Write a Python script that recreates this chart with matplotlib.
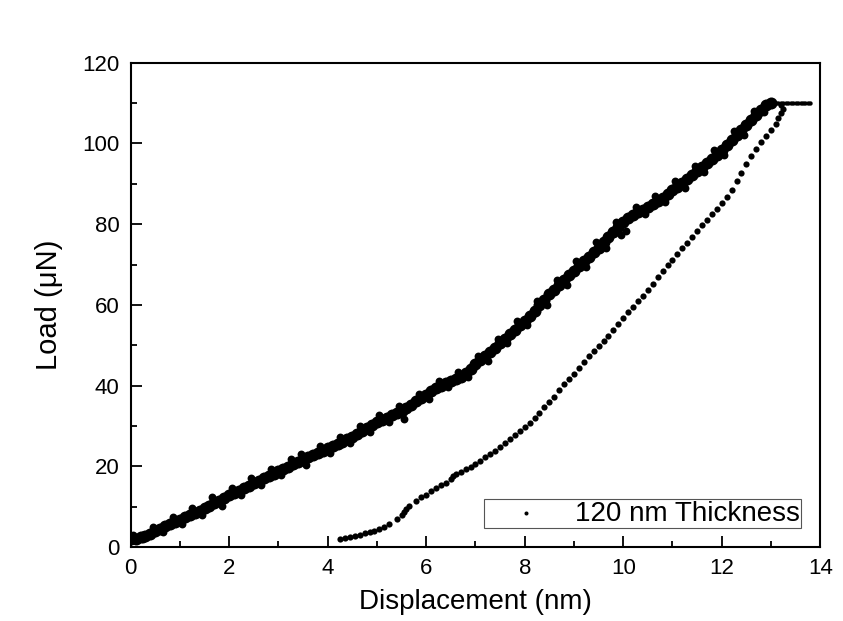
import matplotlib
matplotlib.use('Agg')
import matplotlib.pyplot as plt
from matplotlib.ticker import MultipleLocator

plt.rcParams['font.family'] = ['Liberation Sans', 'DejaVu Sans']

# loading branch (dense band), centre of the band
load_x = [0.0, 0.1, 0.2, 0.3, 0.4, 0.5, 0.6, 0.7, 0.8, 0.9,
          1.0, 1.1, 1.2, 1.3, 1.4, 1.5, 1.6, 1.7, 1.8, 1.9,
          2.0, 2.1, 2.2, 2.3, 2.4, 2.5, 2.6, 2.7, 2.8, 2.9,
          3.0, 3.1, 3.2, 3.3, 3.4, 3.5, 3.6, 3.7, 3.8, 3.9,
          4.0, 4.1, 4.2, 4.3, 4.4, 4.5, 4.6, 4.7, 4.8, 4.9,
          5.0, 5.1, 5.2, 5.3, 5.4, 5.5, 5.6, 5.7, 5.8, 5.9,
          6.0, 6.1, 6.2, 6.3, 6.4, 6.5, 6.6, 6.7, 6.8, 6.9,
          7.0, 7.1, 7.2, 7.3, 7.4, 7.5, 7.6, 7.7, 7.8, 7.9,
          8.0, 8.1, 8.2, 8.3, 8.4, 8.5, 8.6, 8.7, 8.8, 8.9,
          9.0, 9.1, 9.2, 9.3, 9.4, 9.5, 9.6, 9.7, 9.8, 9.9,
          10.0, 10.1, 10.2, 10.3, 10.4, 10.5, 10.6, 10.7, 10.8, 10.9,
          11.0, 11.1, 11.2, 11.3, 11.4, 11.5, 11.6, 11.7, 11.8, 11.9,
          12.0, 12.1, 12.2, 12.3, 12.4, 12.5, 12.6, 12.7, 12.8, 12.9, 13.0]
load_y = [2.0, 2.1, 2.4, 2.8, 3.3, 4.0, 4.6, 5.2, 5.8, 6.3,
          6.8, 7.4, 7.9, 8.5, 9.0, 9.6, 10.3, 11.0, 11.5, 12.2,
          12.8, 13.4, 14.0, 14.6, 15.2, 15.8, 16.4, 17.0, 17.6, 18.2,
          18.8, 19.3, 19.9, 20.5, 21.0, 21.6, 22.2, 22.8, 23.4, 23.9,
          24.5, 25.0, 25.5, 26.1, 26.7, 27.3, 28.0, 28.8, 29.6, 30.3,
          31.0, 31.6, 32.1, 32.7, 33.2, 33.8, 34.5, 35.3, 36.1, 37.0,
          37.8, 38.6, 39.3, 40.0, 40.6, 41.2, 41.7, 42.2, 43.1, 44.2,
          45.3, 46.3, 47.3, 48.3, 49.4, 50.5, 51.6, 52.7, 53.8, 54.9,
          56.0, 57.3, 58.6, 59.9, 61.3, 62.6, 63.8, 65.0, 66.2, 67.4,
          68.5, 69.6, 70.8, 71.9, 73.0, 74.2, 75.5, 76.8, 78.1, 79.4,
          80.5, 81.5, 82.2, 82.9, 83.5, 84.2, 85.0, 85.8, 86.6, 87.5,
          88.4, 89.3, 90.2, 91.2, 92.1, 93.1, 94.1, 95.1, 96.1, 97.2,
          98.4, 99.6, 100.8, 102.0, 103.3, 104.5, 105.8, 107.1, 108.4, 109.5, 110.0]

# loading branch, scattered points at the edges of the band
edge_x = [0.05, 0.25, 0.45, 0.65, 0.85, 1.05, 1.25, 1.45, 1.65, 1.85,
          2.05, 2.25, 2.45, 2.65, 2.85, 3.05, 3.25, 3.45, 3.55, 3.85,
          4.05, 4.25, 4.45, 4.65, 4.85, 5.05, 5.25, 5.45, 5.55, 5.85,
          6.05, 6.25, 6.45, 6.65, 6.85, 7.05, 7.25, 7.45, 7.65, 7.85,
          8.05, 8.25, 8.45, 8.65, 8.85, 9.05, 9.25, 9.45, 9.65, 9.85,
          9.95, 10.05, 10.25, 10.45, 10.65, 10.85, 11.05, 11.25, 11.45, 11.65,
          11.85, 12.05, 12.25, 12.45, 12.65, 12.85]
edge_y = [2.9, 2.0, 4.9, 3.7, 7.4, 5.8, 9.7, 7.9, 12.4, 10.3,
          14.7, 12.9, 17.0, 15.4, 19.3, 17.8, 21.8, 23.1, 20.3, 25.0,
          23.4, 27.3, 25.7, 30.0, 28.5, 32.8, 31.1, 34.9, 31.7, 38.0,
          36.8, 41.1, 39.6, 43.4, 42.1, 47.4, 46.2, 51.6, 50.5, 56.1,
          54.9, 61.0, 60.0, 66.2, 65.0, 70.8, 69.5, 75.5, 74.2, 80.5,
          77.4, 78.2, 84.2, 82.4, 87.1, 85.4, 90.6, 89.0, 94.4, 92.9,
          98.5, 97.2, 103.2, 102.1, 108.0, 107.7]

# hold at peak load
hold_x = [13.0, 13.05, 13.1, 13.15, 13.2, 13.25, 13.3, 13.35, 13.4, 13.45,
          13.5, 13.55, 13.6, 13.65, 13.7, 13.75, 13.8]
hold_y = [110.0] * len(hold_x)

# unloading branch (sparse dots)
unload_x = [13.2, 13.25, 13.2, 13.15, 13.1, 13.0, 12.9, 12.8, 12.7, 12.6,
            12.5, 12.4, 12.3, 12.2, 12.1, 12.0, 11.9, 11.8, 11.7, 11.6,
            11.5, 11.4, 11.3, 11.2, 11.1, 11.0, 10.9, 10.8, 10.7, 10.6,
            10.5, 10.4, 10.3, 10.2, 10.1, 10.0, 9.9, 9.8, 9.7, 9.6,
            9.5, 9.4, 9.3, 9.2, 9.1, 9.0, 8.9, 8.8, 8.7, 8.6,
            8.5, 8.4, 8.3, 8.2, 8.1, 8.0, 7.9, 7.8, 7.7, 7.6,
            7.5, 7.4, 7.3, 7.2, 7.1, 7.0, 6.9, 6.8, 6.7, 6.6,
            6.55, 6.5, 6.4, 6.3, 6.2, 6.1, 6.0, 5.9, 5.8, 5.65,
            5.6, 5.55, 5.5, 5.4, 5.25, 5.15, 5.05, 4.95, 4.85, 4.75,
            4.65, 4.55, 4.45, 4.35, 4.26]
unload_y = [109.6, 108.6, 107.5, 106.2, 104.9, 103.3, 101.8, 100.3, 98.7, 96.9,
            95.0, 92.8, 90.6, 88.5, 86.8, 85.2, 83.8, 82.4, 81.0, 79.7,
            78.3, 76.9, 75.4, 74.0, 72.6, 71.2, 69.8, 68.3, 66.8, 65.2,
            63.6, 62.3, 61.0, 59.6, 58.2, 56.8, 55.3, 53.8, 52.4, 51.1,
            49.9, 48.6, 47.3, 45.9, 44.4, 43.0, 41.7, 40.3, 38.8, 37.3,
            35.9, 34.6, 33.3, 32.0, 30.8, 29.7, 28.7, 27.8, 26.8, 25.8,
            24.8, 23.9, 23.0, 22.2, 21.4, 20.6, 19.9, 19.3, 18.7, 18.2,
            17.5, 16.8, 16.0, 15.3, 14.6, 13.8, 13.0, 12.3, 11.5, 10.2,
            9.5, 8.8, 8.0, 7.0, 5.8, 5.1, 4.5, 4.1, 3.8, 3.4,
            3.1, 2.8, 2.5, 2.2, 2.0]

fig = plt.figure(figsize=(8.43, 6.21), dpi=100)
ax = fig.add_axes([0.155, 0.119, 0.818, 0.780])

ax.scatter(load_x, load_y, s=75, color='black', marker='o', linewidths=0)
ax.scatter(edge_x, edge_y, s=32, color='black', marker='o', linewidths=0)
ax.scatter(hold_x, hold_y, s=10, color='black', marker='o', linewidths=0)
ax.scatter(unload_x, unload_y, s=20, color='black', marker='o', linewidths=0,
           label='120 nm Thickness')

ax.set_xlim(0, 14)
ax.set_ylim(0, 120)
ax.xaxis.set_major_locator(MultipleLocator(2))
ax.xaxis.set_minor_locator(MultipleLocator(1))
ax.yaxis.set_major_locator(MultipleLocator(20))
ax.yaxis.set_minor_locator(MultipleLocator(10))
ax.tick_params(which='major', direction='in', length=8, width=1.3, labelsize=16, pad=8)
ax.tick_params(which='minor', direction='in', length=4.5, width=1.3)
for s in ax.spines.values():
    s.set_linewidth(1.5)

ax.set_xlabel('Displacement (nm)', fontsize=20, labelpad=7)
ax.set_ylabel('Load (\u03bcN)', fontsize=21, labelpad=14)

leg = ax.legend(loc='lower right', fontsize=20, frameon=True, fancybox=False,
                edgecolor='#555555', framealpha=1, borderpad=0.06,
                handlelength=2.9, handletextpad=0.3, borderaxespad=0.68,
                markerscale=0.65)
leg.get_frame().set_linewidth(0.8)

fig.savefig('out.png', dpi=100, facecolor='white')
